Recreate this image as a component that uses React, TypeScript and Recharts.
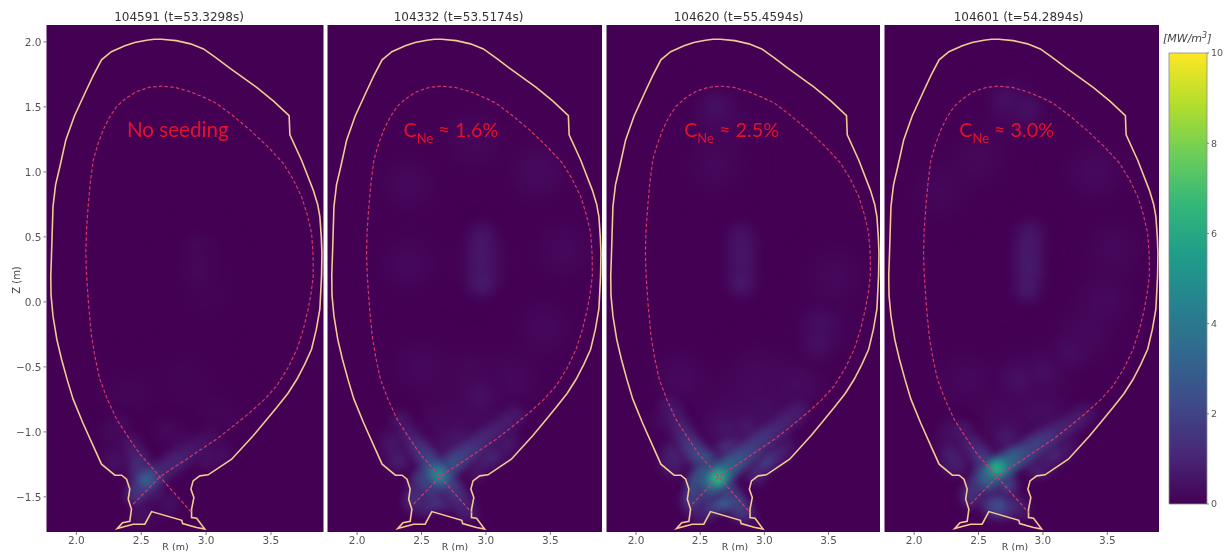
import React from 'react';
import { ScatterChart, Scatter, XAxis, YAxis, ReferenceArea, BarChart, Bar } from 'recharts';

type Row = [number, number, number];

const rTicks = [2, 2.5, 3, 3.5];
const zTicks = [-1.5, -1, -0.5, 0, 0.5, 1, 1.5, 2];
const cbarTicks = [0, 2, 4, 6, 8, 10];
const titles = ['104591 (t=53.3298s)', '104332 (t=53.5174s)', '104620 (t=55.4594s)', '104601 (t=54.2894s)'];
const notes = [
  { main: 'No seeding', sub: '', tail: '' },
  { main: 'C', sub: 'Ne', tail: ' ≈ 1.6%' },
  { main: 'C', sub: 'Ne', tail: ' ≈ 2.5%' },
  { main: 'C', sub: 'Ne', tail: ' ≈ 3.0%' },
];
const noteAnchors: [number, number][] = [[2.39, 1.27], [2.36, 1.27], [2.375, 1.27], [2.35, 1.27]];

const viridis = ['#440154', '#482878', '#3e4a89', '#31688e', '#26828e', '#1f9e89', '#35b779', '#6ece58', '#b5de2b', '#fde725'];

const wall: [number, number][] = [
  [2.657, 2.02], [2.77, 2.01], [2.88, 1.985], [2.98, 1.946], [3.08, 1.875], [3.18, 1.8], [3.39, 1.65], [3.52, 1.545], [3.64, 1.433], [3.646, 1.285], [3.736, 1.09],
  [3.826, 0.86], [3.86, 0.75], [3.877, 0.656], [3.888, 0.5], [3.893, 0.376], [3.89, 0.2], [3.877, -0.054], [3.85, -0.21], [3.813, -0.364], [3.76, -0.48], [3.7, -0.595],
  [3.63, -0.705], [3.544, -0.813], [3.45, -0.925], [3.363, -1.03], [3.197, -1.21], [3.016, -1.33], [2.952, -1.338], [2.9, -1.377], [2.883, -1.44],
  [2.906, -1.505], [2.888, -1.595], [2.888, -1.659], [2.927, -1.664], [2.99, -1.748], [2.927, -1.736], [2.819, -1.705],
  [2.813, -1.68], [2.58, -1.613], [2.528, -1.71], [2.438, -1.71], [2.315, -1.744], [2.356, -1.698], [2.412, -1.687],
  [2.425, -1.595], [2.4, -1.518], [2.412, -1.44], [2.387, -1.364], [2.349, -1.333], [2.297, -1.333], [2.194, -1.248],
  [2.13, -1.108], [2.05, -0.93], [1.975, -0.748], [1.93, -0.6], [1.886, -0.441], [1.85, -0.29], [1.82, -0.108], [1.805, 0.05], [1.803, 0.2], [1.809, 0.375], [1.82, 0.733], [1.84, 0.9],
  [1.873, 1.04], [1.919, 1.246], [1.985, 1.43], [2.066, 1.605], [2.13, 1.74], [2.194, 1.862], [2.27, 1.925], [2.374, 1.97], [2.45, 1.995], [2.541, 2.013], [2.6, 2.02], [2.657, 2.02],
];

const separatrix: [number, number][] = [
  [2.438, -1.556], [2.644, -1.346], [2.74, -1.28], [2.85, -1.21], [2.96, -1.135], [3.08, -1.056], [3.21, -0.955], [3.338, -0.851], [3.45, -0.75], [3.544, -0.646], [3.63, -0.51], [3.7, -0.364],
  [3.75, -0.21], [3.787, -0.056], [3.81, 0.07], [3.826, 0.2], [3.825, 0.36], [3.813, 0.528], [3.78, 0.67], [3.736, 0.81], [3.67, 0.945], [3.594, 1.067], [3.47, 1.2], [3.338, 1.323], [3.21, 1.43], [3.08, 1.528], [2.98, 1.575],
  [2.875, 1.618], [2.76, 1.65], [2.657, 1.66], [2.56, 1.65], [2.464, 1.618], [2.38, 1.565], [2.31, 1.502], [2.255, 1.42], [2.207, 1.323], [2.165, 1.21], [2.13, 1.09], [2.107, 0.91], [2.091, 0.733], [2.078, 0.55],
  [2.073, 0.375], [2.079, 0.2], [2.095, -0.03], [2.117, -0.262], [2.145, -0.43], [2.181, -0.595], [2.24, -0.75], [2.31, -0.902], [2.4, -1.04], [2.49, -1.172], [2.57, -1.26], [2.644, -1.346],
  [2.888, -1.62],
];

const wide1: Row[] = [[2.95, 0.32, 0.14], [3.0, 0.1, 0.12], [2.4, -0.7, 0.14], [2.85, -0.6, 0.1], [3.1, -0.9, 0.14]];
const mid1: Row[] = [[2.93, 0.42, 0.2], [2.93, 0.32, 0.22], [2.93, 0.22, 0.2], [2.31, -1.22, 0.55], [2.28, -1.0, 0.35], [3.08, -1.17, 0.55], [2.8, -1.06, 0.35], [2.7, -1.0, 0.25], [2.51, -1.62, 0.6], [2.66, -1.6, 0.3]];
const tight1: Row[] = [
  [2.34, -0.95, 0.3], [2.42, -1.1, 0.7], [2.46, -1.18, 1], [2.49, -1.26, 1.7], [2.5, -1.33, 2.4], [2.54, -1.37, 3.1],
  [2.57, -1.34, 2.8], [2.5, -1.42, 2.5], [2.46, -1.48, 1.7], [2.6, -1.36, 2.1], [2.66, -1.3, 1.4], [2.73, -1.25, 1.3],
  [2.79, -1.21, 1.2], [2.86, -1.16, 0.9], [2.95, -1.1, 0.6], [3.03, -1.05, 0.4], [2.6, -1.47, 0.7], [2.72, -1.55, 0.45],
  [2.81, -1.12, 0.4], [2.99, -1.2, 0.5],
];

const wide2: Row[] = [
  [2.97, 0.3, 0.3], [2.4, 0.3, 0.25], [2.4, 0.9, 0.25], [3.4, 1.0, 0.3], [3.6, 0.4, 0.25], [3.45, -0.2, 0.25],
  [2.9, 1.25, 0.22], [2.9, -0.6, 0.3], [2.5, -0.5, 0.25], [3.2, -0.6, 0.25], [2.7, -0.95, 0.4], [2.95, -0.9, 0.35],
];
const mid2: Row[] = [
  [2.97, 0.5, 0.8], [2.97, 0.41, 0.85], [2.97, 0.32, 0.95], [2.97, 0.23, 0.9], [2.97, 0.14, 0.8], [2.95, -0.72, 0.5], [2.32, -1.2, 1.1], [2.28, -1.08, 0.7],
  [3.07, -1.16, 1.2], [3.15, -1.08, 0.85], [2.72, -1.1, 0.95], [2.8, -1.05, 0.7],
];
const tight2: Row[] = [
  [2.634, -1.33, 4.9], [2.6, -1.3, 4.7], [2.66, -1.36, 4.5], [2.58, -1.36, 4.2], [2.54, -1.34, 3.4], [2.5, -1.38, 2.4],
  [2.68, -1.29, 4.1], [2.73, -1.25, 3.4], [2.78, -1.21, 2.9], [2.83, -1.17, 2.5], [2.88, -1.14, 2.1], [2.93, -1.1, 1.8],
  [2.99, -1.05, 1.45], [3.06, -1.0, 1.2], [3.14, -0.94, 1], [3.22, -0.88, 0.8], [2.59, -1.26, 3.6], [2.55, -1.21, 2.7],
  [2.5, -1.15, 2], [2.45, -1.09, 1.3], [2.4, -1.02, 1], [2.34, -0.92, 0.7], [2.6, -1.4, 3.2], [2.55, -1.42, 2.7],
  [2.47, -1.48, 1.8], [2.44, -1.54, 1.3], [2.7, -1.39, 2.8], [2.74, -1.44, 2], [2.78, -1.5, 1.7], [2.82, -1.57, 1.2],
  [2.86, -1.62, 0.9], [2.6, -1.51, 1.9], [2.54, -1.56, 1.6], [2.68, -1.53, 1.6], [2.93, -1.3, 0.7], [2.98, -1.22, 1], [3.03, -1.18, 1.1],
];

const wide3: Row[] = [
  [2.65, 1.42, 0.3], [2.62, 1.05, 0.22], [3.45, -0.2, 0.28], [3.55, 0.2, 0.22], [2.85, -0.72, 0.38], [2.35, -0.6, 0.28],
  [2.95, -0.55, 0.25], [3.25, -0.65, 0.32], [2.7, -0.95, 0.48], [3.0, -0.9, 0.48],
];
const mid3: Row[] = [
  [2.62, 1.5, 0.5], [2.82, 0.5, 0.7], [2.82, 0.41, 0.8], [2.82, 0.32, 0.85], [2.82, 0.23, 0.8], [2.82, 0.14, 0.7], [3.44, -0.18, 0.5], [3.42, -0.32, 0.5],
  [2.29, -1.23, 1.4], [2.31, -1.16, 1], [2.85, -0.98, 0.9], [2.7, -0.99, 0.7], [3.13, -1.13, 1], [2.23, -0.9, 0.45],
];
const tight3: Row[] = [
  [2.634, -1.356, 6.9], [2.66, -1.33, 6.6], [2.6, -1.38, 6.2], [2.58, -1.33, 5.8], [2.55, -1.36, 5.3], [2.52, -1.34, 4.8],
  [2.69, -1.3, 5.8], [2.72, -1.27, 5], [2.76, -1.24, 4.4], [2.8, -1.21, 3.8], [2.84, -1.18, 3.3], [2.88, -1.15, 2.9],
  [2.92, -1.11, 2.5], [2.97, -1.07, 2.2], [3.02, -1.03, 1.9], [3.08, -0.99, 1.5], [3.14, -0.94, 1.3], [3.2, -0.89, 1.1], [3.26, -0.84, 0.9],
  [2.6, -1.3, 5.2], [2.56, -1.25, 4], [2.51, -1.2, 3.2], [2.46, -1.15, 2.6], [2.42, -1.1, 2.1], [2.38, -1.03, 1.5], [2.34, -0.96, 1.1],
  [2.3, -0.88, 0.9], [2.26, -0.8, 0.7], [2.58, -1.41, 4.7], [2.53, -1.44, 3.7], [2.48, -1.4, 4], [2.46, -1.48, 2.8], [2.44, -1.54, 2],
  [2.68, -1.41, 3.4], [2.72, -1.47, 3], [2.75, -1.53, 3.2], [2.68, -1.53, 3.2], [2.62, -1.55, 2.8], [2.56, -1.58, 1.7], [2.8, -1.58, 2.4],
  [2.85, -1.63, 1.3], [2.5, -1.63, 1], [2.93, -1.33, 1.1], [2.96, -1.27, 1.6], [3.01, -1.22, 1.8], [3.07, -1.18, 1.5],
  [2.68, -1.14, 1.1], [2.72, -1.13, 1.5], [2.77, -1.11, 1.4],
];

const wide4: Row[] = [
  [2.77, 1.5, 0.35], [2.5, 1.1, 0.22], [2.2, 0.85, 0.2], [3.4, 1.0, 0.28], [3.55, 0.4, 0.22], [3.47, 0, 0.28],
  [3.3, -0.3, 0.3], [3.0, -0.55, 0.32], [2.8, -0.62, 0.35], [2.4, -0.6, 0.25], [2.7, -0.95, 0.4], [3.0, -0.88, 0.4],
];
const mid4: Row[] = [
  [2.72, 1.55, 0.5], [2.88, 1.48, 0.5], [2.9, 0.52, 0.8], [2.89, 0.44, 0.95], [2.89, 0.36, 1], [2.89, 0.28, 1], [2.89, 0.2, 1], [2.88, 0.1, 0.75],
  [2.82, -0.6, 0.55], [3.0, -0.55, 0.42], [3.21, -0.39, 0.38], [2.32, -1.23, 1.4], [2.3, -1.15, 1], [3.0, -1.22, 1.5],
  [3.15, -1.12, 0.9], [2.65, -1.56, 2.2], [2.72, -1.05, 0.8], [2.3, -1.0, 0.55],
];
const tight4: Row[] = [
  [2.64, -1.28, 6.5], [2.68, -1.27, 6.3], [2.61, -1.31, 6], [2.59, -1.35, 5.4], [2.72, -1.24, 5.4], [2.76, -1.21, 4.6],
  [2.8, -1.19, 4], [2.84, -1.175, 3.6], [2.89, -1.14, 3], [2.94, -1.1, 2.6], [3.0, -1.07, 2.2], [3.05, -1.04, 1.9],
  [3.11, -1, 1.5], [3.18, -0.96, 1.2], [3.26, -0.91, 1], [3.33, -0.86, 0.7], [2.55, -1.33, 3.8], [2.57, -1.26, 3.2],
  [2.53, -1.2, 2], [2.48, -1.14, 1.4], [2.43, -1.09, 1.1], [2.38, -1.0, 0.8], [2.56, -1.38, 3.6], [2.51, -1.39, 2.7],
  [2.47, -1.45, 2], [2.445, -1.5, 1.6], [2.68, -1.35, 3.4], [2.72, -1.41, 2.2], [2.65, -1.57, 2.5], [2.71, -1.58, 2],
  [2.6, -1.55, 2], [2.77, -1.55, 1.2], [2.82, -1.6, 0.9], [2.96, -1.28, 1], [3.03, -1.2, 1.1], [3.08, -1.16, 1.1],
];

const panels = [
  { left: 46.5, width: 277, wide: wide1, mid: mid1, tight: tight1 },
  { left: 327, width: 275, wide: wide2, mid: mid2, tight: tight2 },
  { left: 606, width: 274, wide: wide3, mid: mid3, tight: tight3 },
  { left: 884, width: 275, wide: wide4, mid: mid4, tight: tight4 },
];

const toXY = (rows: [number, number][]) => rows.map(([R, Z]) => ({ R, Z }));
const toPts = (rows: Row[]) => rows.map(([R, Z, v]) => ({ R, Z, v }));

function hexToRgb(h: string) {
  return [parseInt(h.slice(1, 3), 16), parseInt(h.slice(3, 5), 16), parseInt(h.slice(5, 7), 16)];
}
function cmap(v: number) {
  const t = Math.max(0, Math.min(1, v / 10)) * (viridis.length - 1);
  const i = Math.min(viridis.length - 2, Math.floor(t));
  const a = hexToRgb(viridis[i]);
  const b = hexToRgb(viridis[i + 1]);
  const f = t - i;
  return `rgb(${a.map((c, k) => Math.round(c + (b[k] - c) * f)).join(',')})`;
}

let blobId = 0;
const makeBlob = (radius: number) => (props: any) => {
  const { cx, cy, payload } = props;
  if (cx == null || cy == null) return <g />;
  const id = `blob${blobId++}`;
  const v = payload.v;
  return (
    <g>
      <defs>
        <radialGradient id={id}>
          <stop offset="0%" stopColor={cmap(v)} stopOpacity={1} />
          <stop offset="30%" stopColor={cmap(v * 0.85)} stopOpacity={0.95} />
          <stop offset="60%" stopColor={cmap(v * 0.5)} stopOpacity={0.6} />
          <stop offset="100%" stopColor={cmap(0)} stopOpacity={0} />
        </radialGradient>
      </defs>
      <circle cx={cx} cy={cy} r={radius} fill={`url(#${id})`} />
    </g>
  );
};

const noShape = () => <g />;
const bg = '#440154';
const AXIS_W = 46.5;
const PLOT_TOP = 25;
const PLOT_BOTTOM = 532;
const R_DOMAIN: [number, number] = [1.77, 3.905];
const Z_DOMAIN: [number, number] = [-1.77, 2.13];
const tickStyle = { fontFamily: 'DejaVu Sans', fontSize: 10.5, fill: '#555' };

function Panel({ index }: { index: number }) {
  const p = panels[index];
  const note = notes[index];
  const [noteR, noteZ] = noteAnchors[index];
  const chartW = AXIS_W + p.width;
  const noteSize = index === 0 ? 20.6 : 19.8;
  const noteShape = (props: any) => (
    <text x={props.cx} y={props.cy} fill="#e5102c" fontFamily="Lato" fontSize={noteSize}>
      {note.main}
      {note.sub ? <tspan dy={6} fontSize={13}>{note.sub}</tspan> : null}
      {note.tail ? <tspan dy={-6}>{note.tail}</tspan> : null}
    </text>
  );
  const titleCenter = [179, 458 - 327 + AXIS_W, 738 - 606 + AXIS_W, 1018 - 884 + AXIS_W][index];
  const rLabelX = titleCenter - 3.5;
  return (
    <div style={{ position: 'absolute', left: p.left - AXIS_W, top: 0 }}>
      <ScatterChart width={chartW} height={552} margin={{ top: PLOT_TOP, right: 0, bottom: 0, left: index === 0 ? 0 : AXIS_W }}>
        <XAxis
          type="number"
          dataKey="R"
          domain={R_DOMAIN}
          ticks={rTicks}
          allowDataOverflow
          height={552 - PLOT_BOTTOM}
          tickFormatter={(v: number) => v.toFixed(1)}
          tick={tickStyle}
          tickSize={3}
          tickLine={{ stroke: '#777' }}
          axisLine={false}
        />
        <YAxis
          type="number"
          dataKey="Z"
          domain={Z_DOMAIN}
          ticks={zTicks}
          allowDataOverflow
          hide={index !== 0}
          width={AXIS_W}
          tickFormatter={(v: number) => (v < 0 ? `\u2212${Math.abs(v).toFixed(1)}` : v.toFixed(1))}
          tick={tickStyle}
          tickSize={3}
          tickLine={{ stroke: '#777' }}
          axisLine={false}
        />
        <ReferenceArea x1={R_DOMAIN[0]} x2={R_DOMAIN[1]} y1={Z_DOMAIN[0]} y2={Z_DOMAIN[1]} fill={bg} fillOpacity={1} stroke="none" />
        <Scatter className="heat-wide" data={toPts(p.wide)} shape={makeBlob(42)} isAnimationActive={false} />
        <Scatter className="heat-mid" data={toPts(p.mid)} shape={makeBlob(22)} isAnimationActive={false} />
        <Scatter className="heat-tight" data={toPts([...p.tight].sort((a, b) => a[2] - b[2]))} shape={makeBlob(18)} isAnimationActive={false} />
        <Scatter data={toXY(wall)} line={{ stroke: '#f4c890', strokeWidth: 1.6 }} lineType="joint" shape={noShape} fill="#f4c890" isAnimationActive={false} />
        <Scatter data={toXY(separatrix)} line={{ stroke: '#d13a68', strokeWidth: 1.2, strokeDasharray: '3.5 2.2' }} lineType="joint" shape={noShape} fill="#d13a68" isAnimationActive={false} />
        <Scatter data={[{ R: noteR, Z: noteZ }]} shape={noteShape} isAnimationActive={false} />
        <text x={titleCenter} y={21} textAnchor="middle" fontFamily="DejaVu Sans" fontSize={12} fill="#333">{titles[index]}</text>
        <text x={rLabelX} y={549.5} textAnchor="middle" fontFamily="DejaVu Sans" fontSize={9.5} fill="#444">R (m)</text>
        {index === 0 ? (
          <text x={20} y={280} textAnchor="middle" fontFamily="DejaVu Sans" fontSize={10} fill="#444" transform="rotate(-90 20 280)">Z (m)</text>
        ) : null}
      </ScatterChart>
    </div>
  );
}

const cbarData = [{ name: 'power', range: [0, 10] }];

function ColorBar() {
  return (
    <div style={{ position: 'absolute', left: 1160, top: 0 }}>
      <BarChart width={70} height={552} data={cbarData} margin={{ top: 53, right: 0, bottom: 48, left: 9 }} barCategoryGap={0}>
        <defs>
          <linearGradient id="viridisBar" x1="0" y1="1" x2="0" y2="0">
            {viridis.map((c, i) => (
              <stop key={c} offset={`${(i / (viridis.length - 1)) * 100}%`} stopColor={c} />
            ))}
          </linearGradient>
        </defs>
        <XAxis dataKey="name" hide />
        <YAxis
          orientation="right"
          domain={[0, 10]}
          ticks={cbarTicks}
          width={23}
          tick={{ fontFamily: 'DejaVu Sans', fontSize: 9.5, fill: '#555' }}
          tickSize={2}
          tickLine={{ stroke: '#777' }}
          axisLine={false}
        />
        <Bar dataKey="range" fill="url(#viridisBar)" stroke="#8a8a8a" strokeWidth={0.8} isAnimationActive={false} />
        <text x={3} y={42} fontFamily="DejaVu Sans" fontStyle="italic" fontSize={11} fill="#444">
          [MW/m<tspan dy={-4} fontSize={8}>3</tspan><tspan dy={4}>]</tspan>
        </text>
      </BarChart>
    </div>
  );
}

const css = `
.heat-wide { filter: blur(9px); }
.heat-mid { filter: blur(4.5px); }
.heat-tight { filter: blur(2.5px); }
`;

export default function App() {
  return (
    <div style={{ position: 'absolute', left: 0, top: 0, width: 1230, height: 552, overflow: 'hidden', background: '#fff', filter: 'blur(0.35px)' }}>
      <style>{css}</style>
      {panels.map((_, i) => (
        <Panel key={i} index={i} />
      ))}
      <ColorBar />
    </div>
  );
}
